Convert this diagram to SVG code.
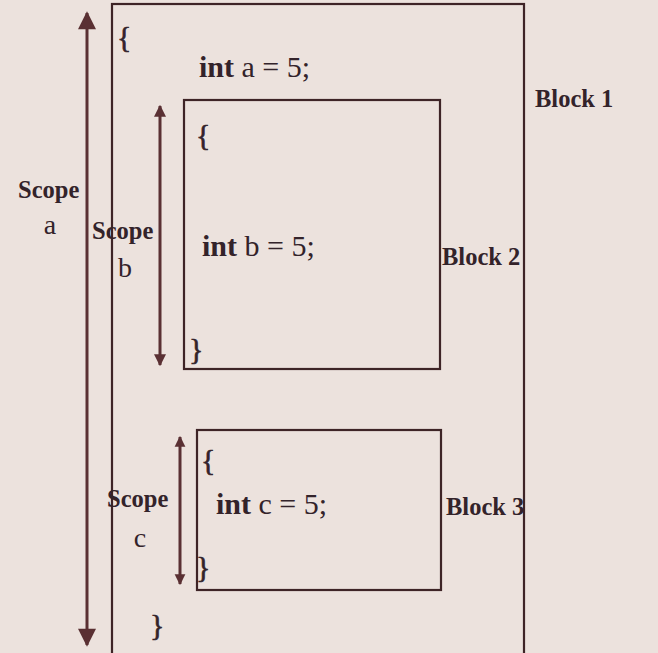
<svg xmlns="http://www.w3.org/2000/svg" width="658" height="653" viewBox="0 0 658 653">
<style>
.box{fill:none;stroke:#3e2426;stroke-width:2.2}
.ln{stroke:#5a3033;stroke-width:3}
.t{font-family:"Liberation Serif","Times New Roman",serif;fill:#33232a}
.b{font-weight:bold}
.code{font-size:30px}
.br{font-size:30px;stroke:#33232a;stroke-width:0.6}
.lab{font-size:24.5px;font-weight:bold}
.sl{font-size:28px}
</style>
<defs>
<marker id="ah" viewBox="0 0 10 10" refX="9" refY="5" markerWidth="6.8" markerHeight="6" orient="auto-start-reverse" markerUnits="strokeWidth">
<path d="M0,0 L10,5 L0,10 z" fill="#5a3033"/>
</marker>
<marker id="ahb" viewBox="0 0 10 10" refX="9" refY="5" markerWidth="4" markerHeight="5.2" orient="auto-start-reverse" markerUnits="strokeWidth">
<path d="M0,0 L10,5 L0,10 z" fill="#5a3033"/>
</marker>
<marker id="ahc" viewBox="0 0 10 10" refX="9" refY="5" markerWidth="3.6" markerHeight="4.4" orient="auto-start-reverse" markerUnits="strokeWidth">
<path d="M0,0 L10,5 L0,10 z" fill="#5a3033"/>
</marker>
</defs>
<rect width="658" height="653" fill="#ece2dd"/>
<g id="block1">
<rect class="box" x="112" y="4" width="412" height="660"/>
<text class="t br" x="117" y="47">{</text>
<text class="t code" x="199" y="77"><tspan class="b">int</tspan> a = 5;</text>
<text class="t br" x="150" y="635">}</text>
<text class="t lab" x="535" y="107">Block 1</text>
</g>
<g id="block2">
<rect class="box" x="184" y="100" width="256" height="269"/>
<text class="t br" x="196" y="145">{</text>
<text class="t code" x="202" y="256"><tspan class="b">int</tspan> b = 5;</text>
<text class="t br" x="189" y="359">}</text>
<text class="t lab" x="442" y="265">Block 2</text>
</g>
<g id="block3">
<rect class="box" x="197" y="430" width="244" height="160"/>
<text class="t br" x="201" y="470">{</text>
<text class="t code" x="216" y="514"><tspan class="b">int</tspan> c = 5;</text>
<text class="t br" x="196" y="577">}</text>
<text class="t lab" x="446" y="515">Block 3</text>
</g>
<g id="scope-labels">
<text class="t lab" x="18" y="198">Scope</text>
<text class="t sl" x="50" y="234" text-anchor="middle">a</text>
<text class="t lab" x="92" y="239">Scope</text>
<text class="t sl" x="125" y="277" text-anchor="middle">b</text>
<text class="t lab" x="107" y="507">Scope</text>
<text class="t sl" x="140" y="547" text-anchor="middle">c</text>
</g>
<g id="connectors">
<line class="ln" x1="87" y1="13" x2="87" y2="645" marker-start="url(#ah)" marker-end="url(#ah)"/>
<line class="ln" x1="160" y1="106" x2="160" y2="365" marker-start="url(#ahb)" marker-end="url(#ahb)"/>
<line class="ln" x1="180" y1="437" x2="180" y2="584" marker-start="url(#ahc)" marker-end="url(#ahc)"/>
</g>
</svg>
